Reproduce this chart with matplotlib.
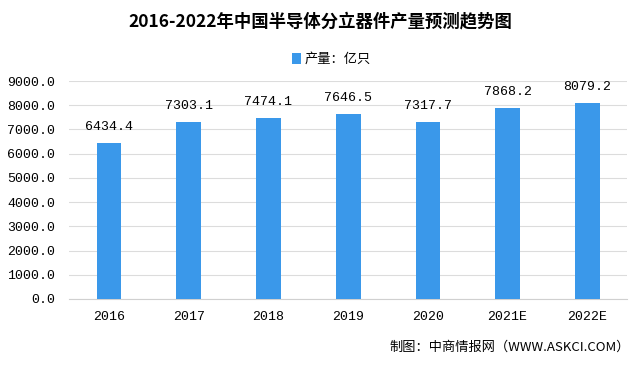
import matplotlib.pyplot as plt

plt.rcParams['font.family'] = ['Noto Sans CJK SC', 'DejaVu Sans']

years = ['2016', '2017', '2018', '2019', '2020', '2021E', '2022E']
output = [6434.4, 7303.1, 7474.1, 7646.5, 7317.7, 7868.2, 8079.2]

fig = plt.figure(figsize=(6.4, 3.65), dpi=100)
ax = fig.add_axes([0.108, 0.181, 0.872, 0.597])

x = range(len(years))
ax.bar(x, output, width=0.31, color='#3a98ea', label='产量：亿只', zorder=3)
for i, v in zip(x, output):
    ax.text(i, v + 420, f'{v:.1f}', ha='center', va='bottom', fontsize=9.5,
            family='Liberation Mono')

ax.set_xlim(-0.5, len(years) - 0.5)
ax.set_ylim(0, 9000)
ax.set_yticks(range(0, 9001, 1000))
ax.set_yticklabels([f'{t:.1f}' for t in range(0, 9001, 1000)],
                   family='Liberation Mono', fontsize=9.5)
ax.set_xticks(list(x))
ax.set_xticklabels(years, family='Liberation Mono', fontsize=9.5)
ax.grid(axis='y', color='#dcdcdc', linewidth=0.8, zorder=0)
for s in ['top', 'right', 'left']:
    ax.spines[s].set_visible(False)
ax.spines['bottom'].set_color('#d0d0d0')
ax.tick_params(length=0)
ax.tick_params(axis='y', pad=10)
ax.tick_params(axis='x', pad=9)

fig.text(0.5, 0.94, '2016-2022年中国半导体分立器件产量预测趋势图', ha='center',
         va='center', fontsize=12.5, fontweight='bold')
ax.legend(loc='center', bbox_to_anchor=(0.47, 1.1), frameon=False, fontsize=9.5,
          handlelength=0.7, handleheight=0.9, handletextpad=0.3)
fig.text(0.985, 0.05, '制图：中商情报网（WWW.ASKCI.COM）', ha='right', va='center',
         fontsize=9.5)

fig.savefig('out.png', dpi=100)
